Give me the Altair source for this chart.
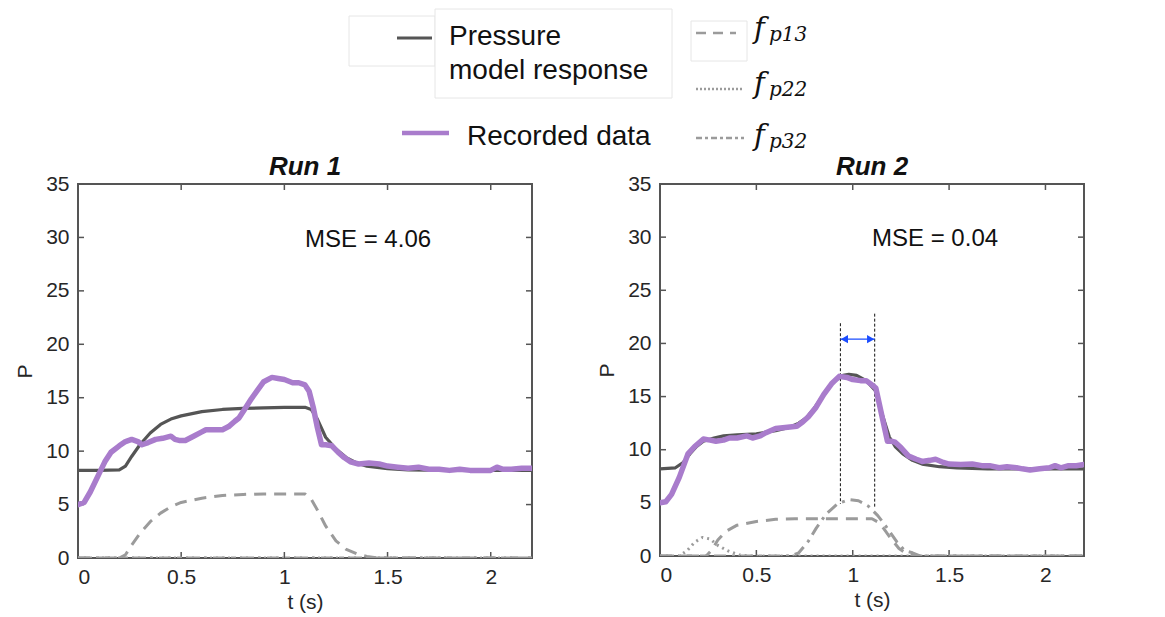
import altair as alt
import pandas as pd

# ---------------- data ----------------
t1_model = [0, 0.1, 0.2, 0.23, 0.26, 0.3, 0.35, 0.4, 0.45, 0.5, 0.6, 0.7, 0.8, 0.9, 1.0, 1.1,
            1.13, 1.16, 1.2, 1.25, 1.3, 1.35, 1.4, 1.5, 1.6, 1.8, 2.0, 2.2]
p1_model = [8.2, 8.2, 8.25, 8.6, 9.5, 10.6, 11.7, 12.5, 13.0, 13.3, 13.7, 13.9, 14.0, 14.05, 14.1, 14.1,
            13.9, 13.0, 11.3, 10.2, 9.4, 8.9, 8.6, 8.35, 8.25, 8.2, 8.2, 8.2]

t1_rec = [0, 0.03, 0.06, 0.1, 0.13, 0.16, 0.2, 0.23, 0.26, 0.29,
          0.31, 0.34, 0.376, 0.41, 0.45, 0.47, 0.49, 0.52, 0.56, 0.6,
          0.62, 0.66, 0.7, 0.73, 0.76, 0.78, 0.81, 0.84, 0.87, 0.9,
          0.94, 0.97, 1.0, 1.04, 1.07, 1.1, 1.12, 1.14, 1.16, 1.18,
          1.2, 1.23, 1.26, 1.29, 1.32, 1.36, 1.41, 1.46, 1.5, 1.55,
          1.6, 1.65, 1.7, 1.75, 1.8, 1.85, 1.9, 1.95, 2.0, 2.03,
          2.06, 2.1, 2.15, 2.2]
p1_rec = [5.0, 5.2, 6.2, 7.8, 9.0, 9.9, 10.5, 10.9, 11.1, 10.9,
          10.6, 10.8, 11.1, 11.2, 11.4, 11.1, 11.0, 11.0, 11.4, 11.8,
          12.0, 12.0, 12.0, 12.3, 12.8, 13.1, 14.0, 14.9, 15.7, 16.5,
          16.9, 16.8, 16.7, 16.4, 16.4, 16.2, 15.6, 14.1, 12.2, 10.6,
          10.6, 10.5, 9.9, 9.4, 9.0, 8.8, 8.9, 8.8, 8.6, 8.5,
          8.4, 8.5, 8.3, 8.3, 8.2, 8.3, 8.2, 8.2, 8.2, 8.5,
          8.3, 8.3, 8.4, 8.4]

t1_fp13 = [0, 0.2, 0.23, 0.26, 0.3, 0.35, 0.4, 0.45, 0.5, 0.6, 0.7, 0.8, 0.9, 1.0, 1.1,
           1.13, 1.16, 1.2, 1.25, 1.3, 1.35, 1.4, 1.45, 2.2]
p1_fp13 = [0, 0, 0.3, 1.2, 2.3, 3.4, 4.2, 4.8, 5.2, 5.6, 5.85, 5.95, 6.0, 6.0, 6.0,
           5.5, 4.5, 3.0, 1.6, 0.8, 0.4, 0.15, 0, 0]
t1_fp22 = [0, 2.2]
p1_fp22 = [0, 0]
t1_fp32 = [0, 2.2]
p1_fp32 = [0, 0]

t2_model = [0, 0.08, 0.12, 0.155, 0.19, 0.225, 0.28, 0.33, 0.4, 0.5,
            0.6, 0.67, 0.72, 0.76, 0.8, 0.85, 0.9, 0.95, 0.98, 1.02,
            1.07, 1.12, 1.15, 1.19, 1.22, 1.26, 1.31, 1.36, 1.45, 1.54,
            1.7, 2.0, 2.2]
p2_model = [8.2, 8.3, 8.8, 9.6, 10.3, 10.8, 11.1, 11.3, 11.4, 11.5,
            11.8, 12.1, 12.5, 13.0, 13.9, 15.2, 16.4, 17.0, 17.1, 17.0,
            16.5, 15.5, 13.5, 11.2, 10.3, 9.6, 9.0, 8.65, 8.4, 8.3,
            8.2, 8.2, 8.2]

t2_rec = [0, 0.03, 0.06, 0.1, 0.145, 0.18, 0.225, 0.26, 0.29, 0.33,
          0.36, 0.4, 0.45, 0.48, 0.52, 0.55, 0.6, 0.65, 0.71, 0.74,
          0.77, 0.81, 0.85, 0.89, 0.93, 0.97, 1.0, 1.04, 1.07, 1.1,
          1.12, 1.15, 1.18, 1.2, 1.22, 1.25, 1.29, 1.33, 1.36, 1.4,
          1.43, 1.47, 1.5, 1.56, 1.62, 1.67, 1.71, 1.76, 1.8, 1.85,
          1.88, 1.92, 1.97, 2.02, 2.05, 2.08, 2.12, 2.16, 2.2]
p2_rec = [5.0, 5.1, 5.8, 7.4, 9.6, 10.3, 11.0, 10.9, 10.8, 10.9,
          11.1, 11.1, 11.3, 11.1, 11.3, 11.6, 12.0, 12.1, 12.2, 12.6,
          13.1, 14.0, 15.2, 16.2, 16.9, 16.8, 16.6, 16.5, 16.5, 16.1,
          15.8, 13.3, 10.8, 10.8, 10.7, 10.2, 9.4, 9.1, 8.9, 9.0,
          9.1, 8.8, 8.65, 8.6, 8.65, 8.5, 8.5, 8.3, 8.4, 8.3,
          8.2, 8.1, 8.2, 8.3, 8.5, 8.3, 8.5, 8.5, 8.6]

t2_fp13 = [0, 0.24, 0.27, 0.3, 0.34, 0.4, 0.5, 0.6, 0.7, 1.1, 1.13, 1.16, 1.2, 1.24, 1.28, 1.32, 2.2]
p2_fp13 = [0, 0, 0.6, 1.5, 2.3, 2.9, 3.25, 3.45, 3.5, 3.5, 3.2, 2.6, 1.6, 0.7, 0.2, 0, 0]
t2_fp22 = [0, 0.1, 0.14, 0.18, 0.22, 0.26, 0.3, 0.35, 0.41, 0.46, 2.2]
p2_fp22 = [0, 0, 0.5, 1.3, 1.75, 1.6, 1.0, 0.5, 0.1, 0, 0]
t2_fp32 = [0, 0.68, 0.72, 0.77, 0.81, 0.86, 0.92, 0.98, 1.03, 1.08, 1.13, 1.18, 1.23, 1.27, 1.31, 1.35, 2.2]
p2_fp32 = [0, 0, 0.3, 1.4, 2.6, 3.9, 4.9, 5.3, 5.2, 4.7, 3.8, 2.6, 1.3, 0.5, 0.3, 0, 0]

# width markers (Run 2)
mark_t = [0.936, 1.114]
mark_top = [21.9, 22.8]
mark_bot = [4.9, 4.5]
arrow_p = 20.4

titles = ["Run 1", "Run 2"]
mse_labels = ["MSE = 4.06", "MSE = 0.04"]
mse_pos = (1.1, 29.8)

x_ticks = [0, 0.5, 1, 1.5, 2]
y_ticks = [0, 5, 10, 15, 20, 25, 30, 35]

# ---------------- style ----------------
FONT = "Liberation Sans"
C_MODEL = "#555555"
C_REC = "#a97ccc"
C_COMP = "#9b9b9b"
C_AXIS = "#555555"
C_TEXT = "#262626"
DASH13 = [12, 8]
DASH22 = [2, 4]
DASH32 = [12, 6, 3, 6]
PADL = 13          # left page padding
ORIG_X = 79        # page x of left plot area (legend origin)
ORIG_Y = 0


def line_layer(t, p, xs, ys, color, width, dash=None):
    df = pd.DataFrame({"t": t, "p": p})
    kw = dict(color=color, strokeWidth=width, clip=True, strokeCap="round", strokeJoin="round")
    if dash is not None:
        kw["strokeDash"] = dash
        kw["strokeCap"] = "butt"
    return alt.Chart(df).mark_line(**kw).encode(
        x=alt.X("t:Q", scale=xs), y=alt.Y("p:Q", scale=ys)
    )


def panel(idx, W, H, series, extra=None):
    xs = alt.Scale(domain=[0, 2.2], nice=False, zero=False)
    ys = alt.Scale(domain=[0, 35], nice=False)
    ax_x = alt.Axis(values=x_ticks, format="~g", title="t (s)", ticks=False, domain=False, grid=False,
                    labelFont=FONT, labelFontSize=21, labelColor=C_TEXT, labelPadding=8,
                    titleFont=FONT, titleFontSize=21, titleFontWeight="normal", titleColor=C_TEXT,
                    titlePadding=4)
    ax_y = alt.Axis(values=y_ticks, title="P", ticks=False, domain=False, grid=False,
                    labelFont=FONT, labelFontSize=21, labelColor=C_TEXT, labelPadding=9,
                    titleFont=FONT, titleFontSize=21, titleFontWeight="normal", titleColor=C_TEXT,
                    titlePadding=10)
    tx = pd.DataFrame({"v": x_ticks})
    ty = pd.DataFrame({"v": y_ticks})
    base_axes = alt.Chart(tx).mark_rule(opacity=0).encode(
        x=alt.X("v:Q", scale=xs, axis=ax_x), y=alt.value(0)
    )
    base_axes_y = alt.Chart(ty).mark_rule(opacity=0).encode(
        y=alt.Y("v:Q", scale=ys, axis=ax_y), x=alt.value(0)
    )
    tk = dict(color=C_AXIS, strokeWidth=1.5)
    ticks = [
        alt.Chart(tx).mark_rule(**tk).encode(x=alt.X("v:Q", scale=xs), y=alt.value(H), y2=alt.value(H - 6)),
        alt.Chart(tx).mark_rule(**tk).encode(x=alt.X("v:Q", scale=xs), y=alt.value(0), y2=alt.value(6)),
        alt.Chart(ty).mark_rule(**tk).encode(y=alt.Y("v:Q", scale=ys), x=alt.value(0), x2=alt.value(6)),
        alt.Chart(ty).mark_rule(**tk).encode(y=alt.Y("v:Q", scale=ys), x=alt.value(W), x2=alt.value(W - 6)),
    ]
    (tm, pm), (tr, pr), (a, b), (c, d), (e, f) = series
    layers = [base_axes, base_axes_y] + ticks + [
        line_layer(c, d, xs, ys, C_COMP, 3, DASH22),
        line_layer(e, f, xs, ys, C_COMP, 3, DASH32),
        line_layer(a, b, xs, ys, C_COMP, 3, DASH13),
    ]
    if extra is not None:
        layers += extra(xs, ys)
    layers += [
        line_layer(tm, pm, xs, ys, C_MODEL, 3.2),
        line_layer(tr, pr, xs, ys, C_REC, 5.5),
        alt.Chart(pd.DataFrame({"t": [mse_pos[0]], "p": [mse_pos[1]], "s": [mse_labels[idx]]}))
        .mark_text(align="left", baseline="middle", font=FONT, fontSize=24, color="#111111")
        .encode(x=alt.X("t:Q", scale=xs), y=alt.Y("p:Q", scale=ys), text="s:N"),
    ]
    return alt.layer(*layers).properties(
        width=W, height=H,
        title=alt.TitleParams(titles[idx], font=FONT, fontSize=26, fontWeight="bold",
                              fontStyle="italic", color="#111111", offset=-7, anchor="middle"),
        view=alt.ViewBackground(stroke=C_AXIS, strokeWidth=2),
    )


def markers(xs, ys):
    df = pd.DataFrame({"t": mark_t, "top": mark_top, "bot": mark_bot})
    ar = pd.DataFrame({"t1": [mark_t[0]], "t2": [mark_t[1]], "p": [arrow_p]})
    return [
        alt.Chart(df).mark_rule(color="#111111", strokeWidth=1, strokeDash=[3, 2]).encode(
            x=alt.X("t:Q", scale=xs), y=alt.Y("top:Q", scale=ys), y2="bot:Q"),
        alt.Chart(ar).mark_rule(color="#1a4cff", strokeWidth=1.3).encode(
            x=alt.X("t1:Q", scale=xs), x2="t2:Q", y=alt.Y("p:Q", scale=ys)),
        alt.Chart(ar).mark_point(shape="triangle-left", filled=True, size=70, color="#1a4cff",
                                 opacity=1, xOffset=4).encode(
            x=alt.X("t1:Q", scale=xs), y=alt.Y("p:Q", scale=ys)),
        alt.Chart(ar).mark_point(shape="triangle-right", filled=True, size=70, color="#1a4cff",
                                 opacity=1, xOffset=-4).encode(
            x=alt.X("t2:Q", scale=xs), y=alt.Y("p:Q", scale=ys)),
    ]


left = panel(0, 454, 374, [(t1_model, p1_model), (t1_rec, p1_rec), (t1_fp13, p1_fp13),
                            (t1_fp22, p1_fp22), (t1_fp32, p1_fp32)])
right = panel(1, 424, 372, [(t2_model, p2_model), (t2_rec, p2_rec), (t2_fp13, p2_fp13),
                             (t2_fp22, p2_fp22), (t2_fp32, p2_fp32)], extra=markers)

# ---------------- legend (MATLAB-style, drawn manually) ----------------
one = pd.DataFrame({"a": [0]})


def lx(v):
    return alt.value(v - ORIG_X)


def ly(v):
    return alt.value(v - ORIG_Y)


def leg_line(x1, x2, y, color, width, dash=None):
    kw = dict(color=color, strokeWidth=width)
    if dash is not None:
        kw["strokeDash"] = dash
    return alt.Chart(one).mark_rule(**kw).encode(x=lx(x1), x2=lx(x2), y=ly(y))


def leg_text(x, y, s, size=28, font=FONT, style="normal", baseline="middle"):
    return alt.Chart(one).mark_text(align="left", baseline=baseline, font=font, fontSize=size,
                                    fontStyle=style, color="#111111", text=s).encode(x=lx(x), y=ly(y))


def leg_box(x1, y1, x2, y2):
    return alt.Chart(one).mark_rect(fill="white", stroke="#e6e6e6", strokeWidth=1).encode(
        x=lx(x1), x2=lx(x2), y=ly(y1), y2=ly(y2))


leg_items = [
    leg_box(350, 15, 436, 65),
    leg_box(436, 8, 673, 97),
    leg_box(692, 20, 748, 60),
    leg_line(398, 433, 37, C_MODEL, 3),
    leg_text(450, 36, "Pressure"),
    leg_text(450, 70, "model response"),
    leg_line(403, 450, 132, C_REC, 4.5),
    leg_text(468, 136, "Recorded data"),
    leg_line(697, 737, 32, C_COMP, 2.5, [10, 7]),
    leg_line(697, 745, 88, C_COMP, 2.5, [2, 2]),
    leg_line(697, 745, 137, C_COMP, 2.5, [6, 3, 3, 3]),
]
subs = ["p13", "p22", "p32"]
for yb, s in zip([37, 92, 144], subs):
    leg_items.append(leg_text(755, yb, "f", size=29, font="DejaVu Serif", style="italic", baseline="alphabetic"))
    leg_items.append(leg_text(770, yb + 3, s, size=20, font="DejaVu Serif", style="italic", baseline="alphabetic"))

legend = alt.layer(*leg_items).properties(
    width=1000, height=150, view=alt.ViewBackground(stroke="transparent")
)

chart = alt.vconcat(
    legend,
    alt.hconcat(left, right, spacing=61),
    spacing=0,
).properties(
    padding={"left": PADL, "top": 0, "right": 0, "bottom": 0},
    background="white",
).configure_concat(spacing=0)

chart.save("out.html", embed_options={"renderer": "svg", "actions": False})
